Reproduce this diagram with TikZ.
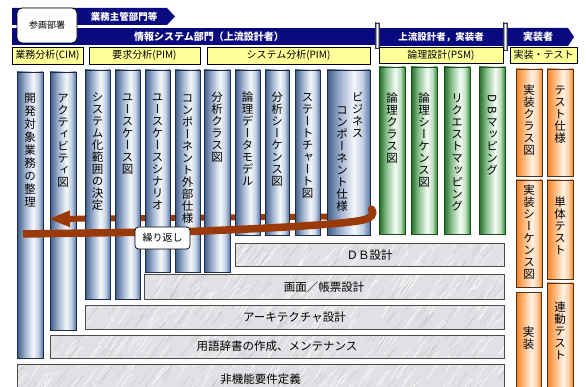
\documentclass[tikz,border=0pt]{standalone}
\usepackage{fontspec}
\setmainfont{Noto Sans CJK JP}
\newfontfamily\vfont[RawFeature=+vert]{Noto Sans CJK JP}
\usetikzlibrary{arrows.meta,shadows}
\definecolor{bandblue}{HTML}{0A0A80}
\definecolor{hdryellow}{HTML}{FFFF99}
\definecolor{brownline}{HTML}{9A3A08}
\definecolor{bA}{HTML}{3C5B8A}\definecolor{bB}{HTML}{9DB0CC}\definecolor{bW}{HTML}{F4F7FB}\definecolor{bD}{HTML}{C3D0E3}\definecolor{bC}{HTML}{5877A6}
\definecolor{gA}{HTML}{1F6B24}\definecolor{gB}{HTML}{8FC393}\definecolor{gW}{HTML}{F6FBF6}\definecolor{gD}{HTML}{BFE0C0}\definecolor{gC}{HTML}{2F8A35}
\definecolor{oA}{HTML}{F58220}\definecolor{oB}{HTML}{FBB77A}\definecolor{oW}{HTML}{FFF3E6}\definecolor{oD}{HTML}{FDD2A8}\definecolor{oC}{HTML}{F68A2A}
\definecolor{bluedraw}{HTML}{1C2B4A}\definecolor{greendraw}{HTML}{1B4D1E}\definecolor{orangedraw}{HTML}{4D3320}
\definecolor{marble}{HTML}{E1E1E5}
\pgfdeclarehorizontalshading{bluecyl}{100bp}{color(0bp)=(bA); color(25bp)=(bA); color(40bp)=(bB); color(56bp)=(bW); color(66bp)=(bD); color(75bp)=(bC); color(100bp)=(bC)}
\pgfdeclarehorizontalshading{greencyl}{100bp}{color(0bp)=(gA); color(25bp)=(gA); color(40bp)=(gB); color(56bp)=(gW); color(66bp)=(gD); color(75bp)=(gC); color(100bp)=(gC)}
\pgfdeclarehorizontalshading{orangecyl}{100bp}{color(0bp)=(oA); color(25bp)=(oA); color(40bp)=(oB); color(56bp)=(oW); color(66bp)=(oD); color(75bp)=(oC); color(100bp)=(oC)}
\makeatletter
\newcommand\VT[2][12]{\vtop{\offinterlineskip\@tfor\vt@c:=#2\do{\hbox to 12pt{\hss\vrule height \dimexpr#1pt*85/100\relax depth \dimexpr#1pt*15/100\relax width 0pt\vt@c\hss}}}}
\makeatother
\newcommand\RD[1]{\rotatebox[origin=c]{-90}{#1}}
\newcommand\colnode[8]{%
  \node[#2, minimum width={(#5-#3)*1pt}, minimum height={(#6-#4)*1pt}] (#1) at (#3,#4) {};
  \node[vtext] (#1t) at ({(#3+#5)/2},#7) {#8};}
\newcommand\greybar[6]{%
  \node[greybox, minimum width={(#4-#2)*1pt}, minimum height={(#5-#3)*1pt}] (#1) at (#2,#3) {};
  \begin{scope}
    \clip (#2,#3) rectangle (#4,#5);
    \pgfmathtruncatemacro\ns{(#4-#2)/5}
    \foreach \k in {1,...,\ns}{%
      \pgfmathsetmacro\sx{#2-10+rnd*(#4-#2+10)}\pgfmathsetmacro\sy{#3+rnd*(#5-#3+10)}%
      \draw[streakw] (\sx,\sy) -- ++(4,-5) -- ++(3,-6) -- ++(5,-4);}
    \foreach \k in {1,...,\ns}{%
      \pgfmathsetmacro\sx{#2-10+rnd*(#4-#2+10)}\pgfmathsetmacro\sy{#3+rnd*(#5-#3+10)}%
      \draw[streakg] (\sx,\sy) -- ++(3,-4) -- ++(4,-5) -- ++(2,-3);}
  \end{scope}
  \draw[barborder] (#1.north west) rectangle (#1.south east);
  \node[bartext] (#1t) at ({(#2+#4)/2},{(#3+#5)/2}) {#6};}
\begin{document}
\begin{tikzpicture}[x=1pt,y=-1pt,
  colbase/.style={draw, line width=.8pt, inner sep=0pt, outer sep=0pt, anchor=north west},
  bluecol/.style={colbase, shade, shading=bluecyl, draw=bluedraw},
  greencol/.style={colbase, shade, shading=greencyl, draw=greendraw},
  orangecol/.style={colbase, shade, shading=orangecyl, draw=orangedraw},
  vtext/.style={inner sep=0pt, outer sep=0pt, anchor=north, font=\vfont\fontsize{11.5}{12}\selectfont},
  hdr/.style={fill=hdryellow, draw=black, line width=.6pt, inner sep=0pt, outer sep=0pt,
     drop shadow={shadow xshift=1.3pt, shadow yshift=-1.3pt, fill=black!65, opacity=1},
     font=\fontsize{10}{12}\selectfont},
  bandtext/.style={text=white, inner sep=0pt, font=\bfseries\fontsize{9.5}{11}\selectfont},
  greybox/.style={fill=marble, draw=none, inner sep=0pt, outer sep=0pt, anchor=north west},
  barborder/.style={draw=black!70, line width=1pt},
  streakw/.style={white, line width=.7pt, opacity=.75},
  streakg/.style={black!35, line width=.4pt, opacity=.45},
  bartext/.style={inner sep=0pt, font=\fontsize{11.5}{13}\selectfont},
  sepbar/.style={draw=black!80, line width=.5pt, left color=black!20!blue!45!gray, right color=black!20!blue!45!gray, middle color=white, inner sep=0pt, outer sep=0pt, minimum width=4pt},
  brownpath/.style={draw=brownline}
]
\pgfmathsetseed{7}
\useasboundingbox[fill=white] (0,0) rectangle (586,387);

% top bands
\fill[bandblue] (12,8) -- (167,8) -- (175,16.5) -- (167,25) -- (12,25) -- cycle;
\fill[bandblue] (12,28) rectangle (376,45.5);
\fill[bandblue] (379,28) rectangle (504,46);
\fill[bandblue] (507,28) -- (568,28) -- (574,37) -- (568,46) -- (507,46) -- cycle;
\node[sepbar, minimum height=25pt] (s1) at (377,35.5) {};
\node[sepbar, minimum height=27pt] (s2) at (505,36.5) {};
\node[draw=black, line width=.8pt, fill=white, rounded corners=5pt, minimum width=60pt, minimum height=35pt, inner sep=0pt, font=\fontsize{9}{11}\selectfont] (sanka) at (47,25.5) {参画部署};
\node[bandtext] (b1) at (124,16.5) {業務主管部門等};
\node[bandtext, font=\bfseries\fontsize{10}{12}\selectfont] (b2) at (209,37) {情報システム部門（上流設計者）};
\node[bandtext] (b3) at (441,37) {上流設計者，実装者};
\node[bandtext, font=\bfseries\fontsize{10}{12}\selectfont] (b4) at (538,37) {実装者};

% yellow headers
\node[hdr, minimum width=71pt, minimum height=17pt] (h1) at (47.5,55.5) {業務分析(CIM)};
\node[hdr, minimum width=111pt, minimum height=17pt] (h2) at (144.5,55.5) {要求分析(PIM)};
\node[hdr, minimum width=163pt, minimum height=17pt] (h3) at (288.5,55.5) {システム分析(PIM)};
\node[hdr, minimum width=124pt, minimum height=16pt] (h4) at (441,55) {論理設計(PSM)};
\node[hdr, minimum width=67pt, minimum height=16pt] (h5) at (543.5,55) {実装・テスト};

% blue columns (first two)
\colnode{c1}{bluecol}{17}{72}{43}{358}{91}{\VT[13]{開発対象業務の整理}}
\colnode{c2}{bluecol}{50}{72}{76}{330}{92}{\VT{アクティビティ図}}

% back part of the loop
\draw[brownpath, line width=6pt, -{Triangle[length=22pt,width=15pt]}] (372,212) -- (330,216.5) -- (48,219);

\colnode{c3}{bluecol}{85}{70}{110}{299}{91}{\VT{システム化範囲の決定}}
\colnode{c4}{bluecol}{115}{70}{140}{299}{91}{\VT{ユースケース図}}
\colnode{c5}{bluecol}{145}{70}{170}{272}{91}{\VT{ユースケースシナリオ}}
\colnode{c6}{bluecol}{175}{70}{200}{272}{92}{\VT{コンポーネント外部仕様}}
\colnode{c7}{bluecol}{204}{70}{230}{272}{91}{\VT{分析クラス図}}
\colnode{c8}{bluecol}{235}{70}{260}{235}{91}{\VT{論理データモデル}}
\colnode{c9}{bluecol}{265}{70}{289}{235}{91}{\VT{分析シーケンス図}}
\colnode{c10}{bluecol}{295}{70}{320}{235}{91}{\VT{ステートチャート図}}
\node[bluecol, minimum width=43pt, minimum height=165pt] (c11) at (327,70) {};
\node[vtext] (c11t) at (357.5,91) {\VT{ビジネス}};
\node[vtext] (c11u) at (342,104) {\VT{コンポーネント仕様}};

% green columns
\colnode{g1}{greencol}{379}{67}{405}{234}{92}{\VT{論理クラス図}}
\colnode{g2}{greencol}{411}{67}{437}{234}{92}{\VT{論理シーケンス図}}
\colnode{g3}{greencol}{444}{67}{470}{234}{92}{\VT{リクエストマッピング}}
\colnode{g4}{greencol}{479}{67}{505}{234}{92}{\VT{{\RD{D}}{\RD{B}}マッピング}}

% orange columns
\colnode{o1}{orangecol}{516}{69}{542}{176}{84}{\VT{実装クラス図}}
\colnode{o2}{orangecol}{547}{69}{573}{176}{84}{\VT{テスト仕様}}
\colnode{o3}{orangecol}{516}{180}{542}{287}{184}{\VT{実装シーケンス図}}
\colnode{o4}{orangecol}{547}{180}{573}{279}{196}{\VT{単体テスト}}
\colnode{o5}{orangecol}{516}{292}{541}{392}{326}{\VT{実装}}
\colnode{o6}{orangecol}{547}{283}{573}{392}{301}{\VT{連動テスト}}

% grey bars
\greybar{d1}{235}{244}{504}{267}{ＤＢ設計}
\greybar{d2}{144}{275}{504}{299}{画面／帳票設計}
\greybar{d3}{85}{305}{504}{329}{アーキテクチャ設計}
\greybar{d4}{50}{335}{504}{358}{用語辞書の作成、メンテナンス}
\greybar{d5}{17}{364}{504}{395}{非機能要件定義}

% front part of the loop
\draw[brownpath, line width=7.5pt] (23,234) -- (190,231.5) .. controls (280,228) and (345,224) .. (363,220) .. controls (372,218) and (374,214) .. (372,209.5);
\fill[brownline] (371.5,209.5) circle (4pt);
\node[draw=black, line width=.7pt, fill=white, rounded corners=3.5pt, minimum width=55pt, minimum height=22pt, inner sep=0pt, font=\fontsize{10}{12}\selectfont] (rep) at (162.5,238) {繰り返し};
\end{tikzpicture}
\end{document}
